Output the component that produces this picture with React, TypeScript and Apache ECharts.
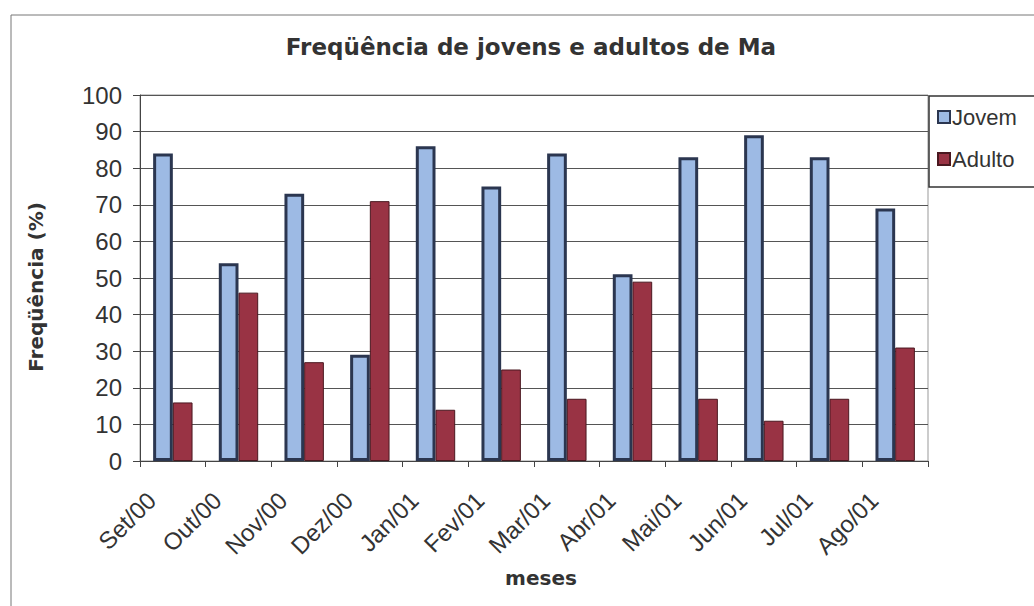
import React, { useEffect, useRef } from "react";
import * as echarts from "echarts";

const categories = ["Set/00", "Out/00", "Nov/00", "Dez/00", "Jan/01", "Fev/01", "Mar/01", "Abr/01", "Mai/01", "Jun/01", "Jul/01", "Ago/01"];
const jovem = [84, 54, 73, 29, 86, 75, 84, 51, 83, 89, 83, 69];
const adulto = [16, 46, 27, 71, 14, 25, 17, 49, 17, 11, 17, 31];
const yTicks = { min: 0, max: 100, interval: 10 };

const FONT = "'Liberation Sans', Arial, sans-serif";
const BOLD = "'DejaVu Sans', sans-serif";

export default function App() {
  const ref = useRef<HTMLDivElement>(null);
  useEffect(() => {
    document.body.style.margin = "0";
    const chart = echarts.init(ref.current!, null, { renderer: "svg" });
    chart.setOption({
      animation: false,
      backgroundColor: "#ffffff",
      textStyle: { fontFamily: FONT },
      title: {
        text: "Freqüência de jovens e adultos de Ma",
        left: 526,
        textAlign: "center",
        top: 30,
        textStyle: { fontSize: 23, fontWeight: "bold", color: "#333", fontFamily: BOLD },
      },
      graphic: [
        {
          type: "rect",
          shape: { x: 11, y: 15, width: 1060, height: 640 },
          style: { fill: "none", stroke: "#777", lineWidth: 1 },
          z: -1,
        },
        {
          type: "rect",
          shape: { x: 929, y: 96, width: 130, height: 91 },
          style: { fill: "#fff", stroke: "#333", lineWidth: 1.5 },
          z: 5,
        },
      ],
      legend: {
        orient: "vertical",
        left: 937,
        top: 106,
        padding: 0,
        itemWidth: 12,
        itemHeight: 12,
        itemGap: 20,
        icon: "rect",
        z: 10,
        textStyle: { fontSize: 22, color: "#333", fontFamily: FONT, padding: [0, 0, 0, -3] },
        data: ["Jovem", "Adulto"],
      },
      grid: {
        left: 140,
        right: 106,
        top: 95,
        bottom: 145,
        show: true,
        borderColor: "#999",
        borderWidth: 1,
      },
      xAxis: {
        type: "category",
        data: categories,
        name: "meses",
        nameLocation: "middle",
        nameGap: 107,
        nameTextStyle: { fontSize: 20, fontWeight: "bold", color: "#333", fontFamily: BOLD, padding: [0, 0, 0, 14] },
        axisLine: { lineStyle: { color: "#444", width: 1 } },
        axisTick: { show: true, length: 6, lineStyle: { color: "#444" } },
        axisLabel: {
          rotate: 45,
          fontSize: 24,
          color: "#333",
          margin: 14,
          padding: [0, 30, 0, 0],
          fontFamily: FONT,
          interval: 0,
        },
      },
      yAxis: {
        type: "value",
        min: yTicks.min,
        max: yTicks.max,
        interval: yTicks.interval,
        name: "Freqüência (%)",
        nameLocation: "middle",
        nameGap: 94,
        nameRotate: 90,
        nameTextStyle: { fontSize: 20, fontWeight: "bold", color: "#333", fontFamily: BOLD, padding: [0, 18, 0, 0] },
        axisLine: { show: true, lineStyle: { color: "#444", width: 1 } },
        axisTick: { show: true, length: 7, lineStyle: { color: "#444" } },
        axisLabel: { fontSize: 24, color: "#333", margin: 18, fontFamily: FONT },
        splitLine: { show: true, lineStyle: { color: "#555", width: 1 } },
      },
      series: [
        {
          name: "Jovem",
          type: "bar",
          data: jovem,
          barGap: "0%",
          barCategoryGap: "40%",
          itemStyle: { color: "#9DBAE4", borderColor: "#2B3650", borderWidth: 3 },
        },
        {
          name: "Adulto",
          type: "bar",
          data: adulto,
          itemStyle: { color: "#993344", borderColor: "#4A1820", borderWidth: 1 },
        },
      ],
    });
    return () => chart.dispose();
  }, []);
  return <div ref={ref} style={{ width: 1034, height: 606 }} />;
}
